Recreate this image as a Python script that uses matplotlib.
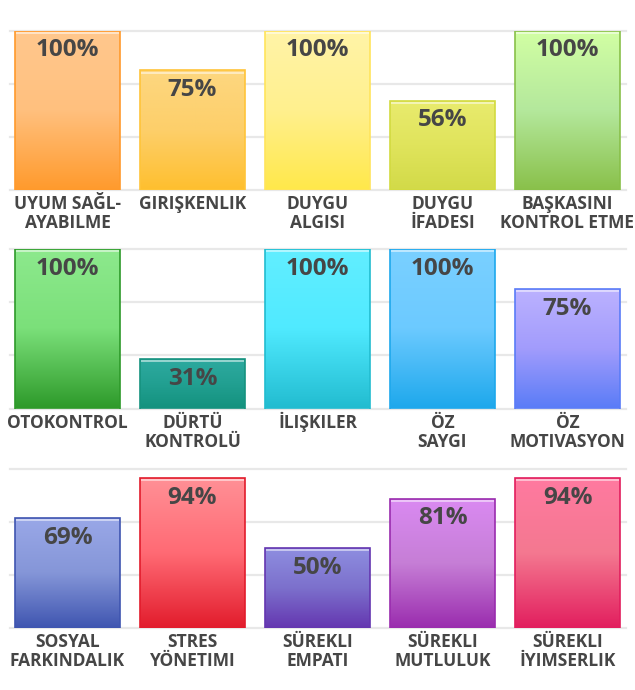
import numpy as np
import matplotlib
matplotlib.use("Agg")
import matplotlib.pyplot as plt
from matplotlib.colors import LinearSegmentedColormap

plt.rcParams['font.family'] = ['Open Sans', 'DejaVu Sans']

# Data, one list per row of the chart
row_labels = [
    ["UYUM SAĞL-\nAYABILME", "GIRIŞKENLIK", "DUYGU\nALGISI", "DUYGU\nİFADESI", "BAŞKASINI\nKONTROL ETME"],
    ["OTOKONTROL", "DÜRTÜ\nKONTROLÜ", "İLIŞKILER", "ÖZ\nSAYGI", "ÖZ\nMOTIVASYON"],
    ["SOSYAL\nFARKINDALIK", "STRES\nYÖNETIMI", "SÜREKLI\nEMPATI", "SÜREKLI\nMUTLULUK", "SÜREKLI\nİYIMSERLIK"],
]
row_values = [
    [100, 75, 100, 56, 100],
    [100, 31, 100, 100, 75],
    [69, 94, 50, 81, 94],
]

# gradient colours (top -> bottom) and border colour per bar
row_gradients = [
    [["#ffc88e", "#ffc07e", "#ff9a2c"], ["#fdd780", "#fdcf6a", "#ffbf2e"], ["#fff4a8", "#fff08e", "#ffe84a"],
     ["#e9eb6e", "#e0e45c", "#d2da48"], ["#d2ffa4", "#b4e89c", "#89c04a"]],
    [["#8de98d", "#7be07a", "#2e9a2a"], ["#2eaaa0", "#22a092", "#14927e"], ["#62eeff", "#50eaff", "#22bcd0"],
     ["#7ad0ff", "#6ccaff", "#1ea8ec"], ["#bcb2ff", "#a29cfc", "#5a7cf7"]],
    [["#9aa8e8", "#8596d8", "#3f55b0"], ["#ff9096", "#ff6a74", "#e21c2c"], ["#8e8ee0", "#7c70cc", "#6436b0"],
     ["#da8af2", "#c67ed6", "#9a2cae"], ["#ff7aa0", "#f47890", "#e21e5e"]],
]
row_edges = [
    ["#ff9a2c", "#ffc43a", "#ffe45c", "#d2da40", "#89c04a"],
    ["#2e9a2a", "#16927f", "#22bcd0", "#1ea8ec", "#5a7cf7"],
    ["#3f55b0", "#e21c2c", "#6436b0", "#9a2cae", "#e21e5e"],
]

text_color = "#464646"
grid_color = "#e8e8e8"

fig = plt.figure(figsize=(6.35, 6.9), dpi=100)
W, H = 635.0, 690.0
row_bottoms = [190, 408.5, 628]  # pixel y of the baseline of each row
row_height = 159.5

x = np.arange(5)
for r in range(3):
    ax = fig.add_axes([10 / W, (H - row_bottoms[r]) / H, 616 / W, row_height / H])
    ax.set_xlim((10 - 67.5) / 125, (626 - 67.5) / 125)
    ax.set_ylim(0, 100)
    for s in ax.spines.values():
        s.set_visible(False)
    ax.set_xticks([])
    ax.set_yticks([])
    for gy in [0, 100 / 3, 200 / 3, 100]:
        ax.axhline(gy, color=grid_color, lw=1.6, zorder=0, clip_on=False)

    bars = ax.bar(x, row_values[r], width=0.84, color="none", zorder=2)
    for i, b in enumerate(bars):
        cmap = LinearSegmentedColormap.from_list("g%d%d" % (r, i), row_gradients[r][i])
        grad = np.linspace(0, 1, 256).reshape(-1, 1)
        x0, y0, w, h = b.get_x(), b.get_y(), b.get_width(), b.get_height()
        im = ax.imshow(grad, cmap=cmap, aspect="auto", extent=(x0, x0 + w, y0, y0 + h),
                       origin="upper", zorder=1, interpolation="bilinear")
        im.set_clip_path(b)
        ax.plot([x0 + 0.01, x0 + w - 0.01], [y0 + h - 1.4, y0 + h - 1.4], color="white",
                lw=1.2, alpha=0.6, zorder=3, solid_capstyle="butt")
        ax.add_patch(plt.Rectangle((x0, y0), w, h, fill=False, edgecolor=row_edges[r][i],
                                   lw=1.2, zorder=4))
        ax.annotate("%d%%" % row_values[r][i], (x[i], row_values[r][i]), xytext=(0, -18.5),
                    textcoords="offset points", ha="center", va="baseline", fontsize=17.5,
                    fontweight="bold", color=text_color, zorder=5)
        for k, line in enumerate(row_labels[r][i].split("\n")):
            ax.annotate(line, (x[i], 0), xytext=(0, -13.7 - 13.9 * k), textcoords="offset points",
                        ha="center", va="baseline", fontsize=12.5, fontweight="bold",
                        color=text_color, annotation_clip=False)

fig.savefig("out.png", dpi=100)
